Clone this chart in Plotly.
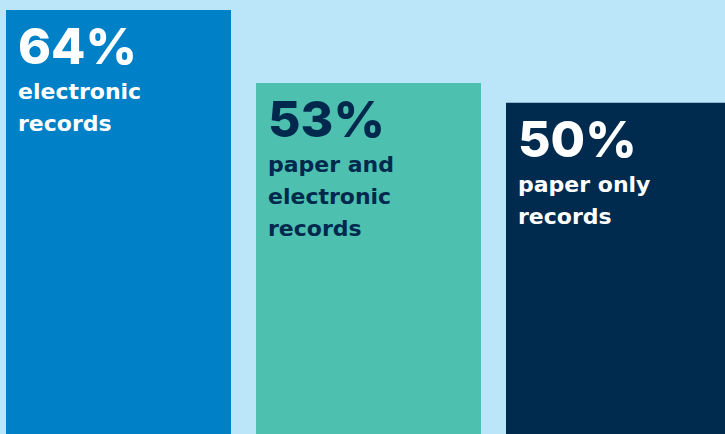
import plotly.graph_objects as go

categories = ["electronic records", "paper and electronic records", "paper only records"]
values = [64, 53, 50]
pct_labels = ["64%", "53%", "50%"]
desc_lines = [["electronic", "records"],
              ["paper and", "electronic", "records"],
              ["paper only", "records"]]
bar_colors = ["#0080c6", "#4dc0b0", "#002b4f"]
text_colors = ["#ffffff", "#00294d", "#ffffff"]

BG = "#bbe5f9"
PCT_FONT = "Inter"
DESC_FONT = "DejaVu Sans"

x = list(range(len(values)))
fig = go.Figure()
fig.add_trace(go.Bar(x=x, y=values, width=0.9, marker=dict(color=bar_colors, line=dict(width=0)),
                     hoverinfo="skip"))

annotations = []
for i, (v, pct, lines, tc) in enumerate(zip(values, pct_labels, desc_lines, text_colors)):
    annotations.append(dict(x=i - 0.45, y=v, xref="x", yref="y", xanchor="left", yanchor="top",
                            xshift=10, yshift=-4, text=pct, showarrow=False,
                            font=dict(family=PCT_FONT, size=50, color=tc, weight=800)))
    for j, line in enumerate(lines):
        annotations.append(dict(x=i - 0.45, y=v, xref="x", yref="y", xanchor="left", yanchor="top",
                                xshift=10, yshift=-67 - 32 * j, text=line, showarrow=False,
                                font=dict(family=DESC_FONT, size=22, color=tc, weight="bold")))

fig.update_layout(
    width=725, height=434, margin=dict(l=0, r=0, t=0, b=0),
    paper_bgcolor=BG, plot_bgcolor=BG, showlegend=False,
    xaxis=dict(range=[-0.474, 2.426], visible=False, fixedrange=True),
    yaxis=dict(range=[0, 65.51], visible=False, fixedrange=True),
    annotations=annotations, bargap=0.1,
)
fig.write_html("out.html", config={"displayModeBar": False},
               post_script="document.body.style.margin='0';document.body.style.overflow='hidden';")
